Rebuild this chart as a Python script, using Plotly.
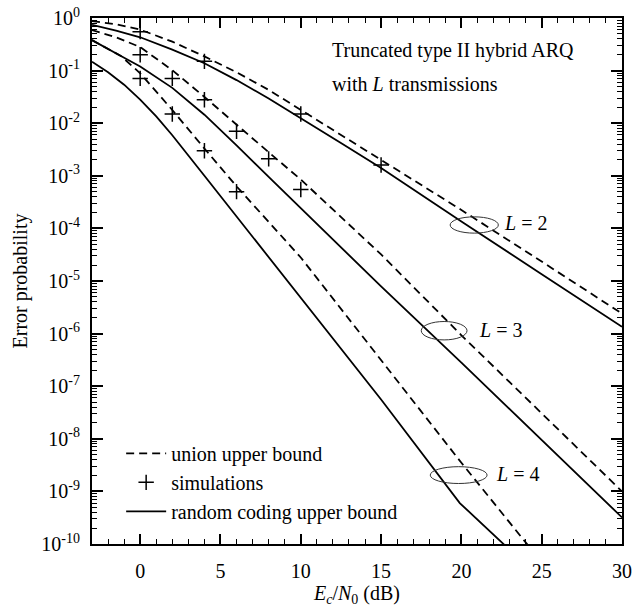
import plotly.graph_objects as go

# ---- data (Ec/N0 in dB, error probability) ----
x_l2_union = [-3, -1.5, 0, 2, 4, 6, 8, 10, 12.5, 15, 20, 25, 30]
p_l2_union = [0.87, 0.76, 0.60, 0.355, 0.186, 0.093, 0.043, 0.0178, 6.0e-3, 2.0e-3, 2.24e-4, 2.34e-5, 2.4e-6]

x_l2_rc = [-3, -1.5, 0, 2, 4, 6, 8, 10, 12.5, 15, 20, 25, 30]
p_l2_rc = [0.74, 0.575, 0.43, 0.25, 0.138, 0.066, 0.0295, 0.0126, 4.2e-3, 1.41e-3, 1.35e-4, 1.35e-5, 1.35e-6]

x_l3_union = [-3, -1.5, 0, 2, 4, 6, 8, 10, 15, 20, 25, 30]
p_l3_union = [0.59, 0.43, 0.28, 0.102, 0.0316, 9.3e-3, 2.8e-3, 8.5e-4, 3.2e-5, 9.3e-7, 3.0e-8, 1.0e-9]

x_l3_rc = [-3, -2, -1.2, 0, 2, 4, 6, 8, 10, 15, 20, 25, 30]
p_l3_rc = [0.38, 0.263, 0.19, 0.12, 0.047, 0.0145, 3.8e-3, 9.5e-4, 2.4e-4, 7.9e-6, 2.8e-7, 9.3e-9, 3.2e-10]

x_l4_union = [-3, -2, -1.2, 0, 2, 4, 6, 10, 15, 20, 25]
p_l4_union = [0.38, 0.263, 0.19, 0.089, 0.0178, 3.3e-3, 6.3e-4, 2.8e-5, 3.2e-7, 3.5e-9, 4.5e-11]

x_l4_rc = [-3, -2, -1, 0, 1, 2, 4, 6, 10, 12.5, 15, 19.9, 22.5, 23.5]
p_l4_rc = [0.148, 0.093, 0.054, 0.028, 0.0135, 5.9e-3, 1.0e-3, 1.7e-4, 4.7e-6, 5.2e-7, 5.6e-8, 6.0e-10, 1.12e-10, 5.6e-11]

x_l2_sim = [0, 4, 10, 15]
p_l2_sim = [0.55, 0.15, 0.015, 0.0016]
x_l3_sim = [0, 2, 4, 6, 8, 10]
p_l3_sim = [0.2, 0.071, 0.028, 0.007, 0.0021, 0.00055]
x_l4_sim = [0, 2, 4, 6]
p_l4_sim = [0.071, 0.015, 0.003, 0.0005]

x_ticks = [0, 5, 10, 15, 20, 25, 30]
y_exponents = list(range(0, -11, -1))
y_tick_vals = [10.0 ** e for e in y_exponents]
y_tick_text = ["10<sup>%d</sup>" % e for e in y_exponents]

legend_names = ["union upper bound", "simulations", "random coding upper bound"]
curve_labels = ["<i>L</i> = 2", "<i>L</i> = 3", "<i>L</i> = 4"]
title_lines = ["Truncated type II hybrid ARQ", "with <i>L</i> transmissions"]

FONT = "Liberation Serif, Times New Roman, serif"
FS = 20
DASH = "8px,5px"
LW = 1.8

fig = go.Figure()

def add_union(x, y, show):
    fig.add_trace(go.Scatter(x=x, y=y, mode="lines", name=legend_names[0],
                             legendgroup="u", showlegend=show,
                             line=dict(color="black", width=LW, dash=DASH)))

def add_sim(x, y, show):
    fig.add_trace(go.Scatter(x=x, y=y, mode="markers", name=legend_names[1],
                             legendgroup="s", showlegend=show,
                             marker=dict(symbol="cross-thin", size=11, color="black",
                                         line=dict(color="black", width=1.5))))

def add_rc(x, y, show):
    fig.add_trace(go.Scatter(x=x, y=y, mode="lines", name=legend_names[2],
                             legendgroup="r", showlegend=show,
                             line=dict(color="black", width=LW)))

add_union(x_l2_union, p_l2_union, True)
add_sim(x_l2_sim, p_l2_sim, True)
add_rc(x_l2_rc, p_l2_rc, True)
add_union(x_l3_union, p_l3_union, False)
add_union(x_l4_union, p_l4_union, False)
add_rc(x_l3_rc, p_l3_rc, False)
add_rc(x_l4_rc, p_l4_rc, False)
add_sim(x_l3_sim, p_l3_sim, False)
add_sim(x_l4_sim, p_l4_sim, False)

# ellipses marking the curve pairs
ellipses = [(19.3, 22.3, 10 ** -4.09, 10 ** -3.78),
            (17.5, 20.35, 10 ** -6.12, 10 ** -5.77),
            (18.06, 21.6, 10 ** -8.85, 10 ** -8.53)]
label_pos = [(22.5, -3.90), (21.0, -5.94), (22.0, -8.66)]
for (x0, x1, y0, y1), (lx, ly), txt in zip(ellipses, label_pos, curve_labels):
    fig.add_shape(type="circle", xref="x", yref="y", x0=x0, x1=x1, y0=y0, y1=y1,
                  line=dict(color="#333333", width=1))
    fig.add_annotation(x=lx, y=ly, xref="x", yref="y", text=txt, showarrow=False,
                       xanchor="left", yanchor="middle", font=dict(size=FS))

fig.add_annotation(x=0.449, y=0.939, xref="paper", yref="paper", text=title_lines[0],
                   showarrow=False, xanchor="left", yanchor="middle", font=dict(size=FS))
fig.add_annotation(x=0.449, y=0.8745, xref="paper", yref="paper", text=title_lines[1],
                   showarrow=False, xanchor="left", yanchor="middle", font=dict(size=FS))

minor_x = [v for v in range(-2, 30) if v % 5 != 0]
minor_y = [m * 10.0 ** e for e in range(-10, 0) for m in range(2, 10)]

fig.update_xaxes(range=[-3, 30], tickvals=x_ticks, ticks="inside", ticklen=10, tickwidth=1.5,
                 tickcolor="black", showline=True, linewidth=2, linecolor="black",
                 mirror="ticks", showgrid=False, zeroline=False, ticklabelstandoff=8,
                 automargin=False,
                 minor=dict(tickvals=minor_x, ticks="inside", ticklen=5, tickwidth=1,
                            tickcolor="black", showgrid=False),
                 title=dict(text="<i>E<sub>c</sub></i>/<i>N</i><sub>0</sub> (dB)",
                            font=dict(size=FS), standoff=4))
fig.update_yaxes(type="log", range=[-10, 0], tickvals=y_tick_vals, ticktext=y_tick_text,
                 ticks="inside", ticklen=11, tickwidth=1.5, tickcolor="black",
                 showline=True, linewidth=2, linecolor="black", mirror="ticks",
                 showgrid=False, zeroline=False, ticklabelstandoff=6, automargin=False,
                 minor=dict(tickvals=minor_y, ticks="inside", ticklen=5, tickwidth=1,
                            tickcolor="black", showgrid=False),
                 title=dict(text="Error probability", font=dict(size=FS), standoff=8))

fig.update_layout(width=632, height=613, margin=dict(l=92, r=10, t=18, b=69),
                  plot_bgcolor="white", paper_bgcolor="white",
                  font=dict(family=FONT, size=FS, color="black"),
                  legend=dict(x=0.055, y=0.025, xanchor="left", yanchor="bottom",
                              bgcolor="rgba(0,0,0,0)", font=dict(size=FS),
                              tracegroupgap=0, itemwidth=40))

fig.write_html("out.html", config={"displayModeBar": False},
               post_script="document.body.style.margin='0';document.body.style.overflow='hidden';")
